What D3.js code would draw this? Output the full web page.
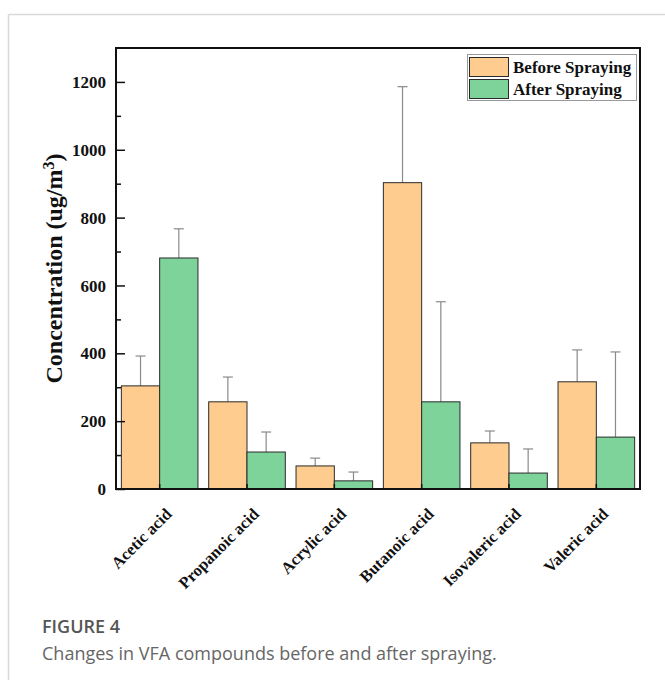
<!DOCTYPE html>
<html>
<head>
<meta charset="utf-8">
<script src="https://cdn.jsdelivr.net/npm/d3@7"></script>
<style>
  html, body { margin: 0; padding: 0; background: #fff; }
  svg { display: block; }
</style>
</head>
<body>
<svg id="chart" width="665" height="680"></svg>
<script>
const categories = ["Acetic acid", "Propanoic acid", "Acrylic acid", "Butanoic acid", "Isovaleric acid", "Valeric acid"];
const seriesNames = ["Before Spraying", "After Spraying"];
const beforeValues = [304, 257, 68, 903, 136, 316];
const beforeErrors = [88, 73, 23, 283, 35, 94];
const afterValues = [681, 109, 24, 257, 47, 153];
const afterErrors = [86, 59, 26, 295, 71, 251];
const yTicks = [0, 200, 400, 600, 800, 1000, 1200];
const yMinorTicks = [100, 300, 500, 700, 900, 1100];
const colors = ["#FECC8E", "#7ED39B"];

const svg = d3.select("#chart");
const serif = "'Liberation Serif', 'Times New Roman', serif";

// card border
svg.append("line").attr("x1", 8.5).attr("x2", 8.5).attr("y1", 14.5).attr("y2", 680).attr("stroke", "#d9d9d9").attr("stroke-width", 1.5);
svg.append("line").attr("x1", 8.5).attr("x2", 665).attr("y1", 14.5).attr("y2", 14.5).attr("stroke", "#d9d9d9").attr("stroke-width", 1.5);

const pLeft = 116, pRight = 640, pTop = 48, pBottom = 489;

const x = d3.scaleBand().domain(categories).range([pLeft, pRight]).padding(0);
const y = d3.scaleLinear().domain([0, 1300]).range([pBottom, pTop]);
const sub = d3.scaleBand().domain(seriesNames).range([0, x.bandwidth()]).paddingInner(0).paddingOuter(0.14);

const data = [];
categories.forEach((c, i) => {
  data.push({cat: c, s: 0, v: beforeValues[i], e: beforeErrors[i]});
  data.push({cat: c, s: 1, v: afterValues[i], e: afterErrors[i]});
});

const g = svg.append("g");

// error bars (drawn behind bars)
const capW = 10;
data.forEach(d => {
  const cx = x(d.cat) + sub(seriesNames[d.s]) + sub.bandwidth() / 2;
  g.append("line").attr("x1", cx).attr("x2", cx).attr("y1", y(d.v)).attr("y2", y(d.v + d.e))
    .attr("stroke", "#8a8a8a").attr("stroke-width", 1.2);
  g.append("line").attr("x1", cx - capW / 2).attr("x2", cx + capW / 2).attr("y1", y(d.v + d.e)).attr("y2", y(d.v + d.e))
    .attr("stroke", "#8a8a8a").attr("stroke-width", 1.2);
});

// bars
g.selectAll("rect.bar").data(data).enter().append("rect")
  .attr("class", "bar")
  .attr("x", d => x(d.cat) + sub(seriesNames[d.s]))
  .attr("width", sub.bandwidth())
  .attr("y", d => y(d.v))
  .attr("height", d => y(0) - y(d.v))
  .attr("fill", d => colors[d.s])
  .attr("stroke", "#2a2a2a")
  .attr("stroke-width", 1);

// y axis major ticks (inward)
const yAxis = d3.axisRight(y).tickValues(yTicks).tickSize(9).tickFormat("");
const ya = svg.append("g").attr("transform", `translate(${pLeft},0)`).call(yAxis);
ya.select(".domain").remove();
ya.selectAll("line").attr("stroke", "#111").attr("stroke-width", 1.5);
const yMinor = d3.axisRight(y).tickValues(yMinorTicks).tickSize(5).tickFormat("");
const ym = svg.append("g").attr("transform", `translate(${pLeft},0)`).call(yMinor);
ym.select(".domain").remove();
ym.selectAll("line").attr("stroke", "#111").attr("stroke-width", 1.5);

// y tick labels
svg.append("g").selectAll("text").data(yTicks).enter().append("text")
  .attr("x", pLeft - 10).attr("y", d => y(d)).attr("dy", "0.36em")
  .attr("text-anchor", "end")
  .attr("font-family", serif).attr("font-weight", "bold").attr("font-size", 17)
  .attr("fill", "#111")
  .text(d => d);

// x axis ticks inward
const xAxis = d3.axisTop(x).tickSize(5).tickFormat("");
const xa = svg.append("g").attr("transform", `translate(0,${pBottom})`).call(xAxis);
xa.select(".domain").remove();
xa.selectAll("line").attr("stroke", "#111").attr("stroke-width", 1.5);

// frame
svg.append("rect").attr("x", pLeft).attr("y", pTop).attr("width", pRight - pLeft).attr("height", pBottom - pTop)
  .attr("fill", "none").attr("stroke", "#111").attr("stroke-width", 2);

// x labels rotated
svg.append("g").selectAll("text").data(categories).enter().append("text")
  .attr("transform", d => `translate(${x(d) + x.bandwidth() / 2 + 13},${pBottom + 26}) rotate(-45)`)
  .attr("text-anchor", "end")
  .attr("font-family", serif).attr("font-weight", "bold").attr("font-size", 16.5)
  .attr("fill", "#111")
  .text(d => d);

// y axis title
const yt = svg.append("text")
  .attr("transform", `translate(62,${(pTop + pBottom) / 2}) rotate(-90)`)
  .attr("text-anchor", "middle")
  .attr("font-family", serif).attr("font-weight", "bold").attr("font-size", 24)
  .attr("fill", "#111");
yt.append("tspan").text("Concentration (ug/m");
yt.append("tspan").attr("baseline-shift", "super").attr("font-size", 16).text("3");
yt.append("tspan").text(")");

// legend
const lg = svg.append("g");
lg.append("rect").attr("x", 467.5).attr("y", 54.5).attr("width", 169).attr("height", 46)
  .attr("fill", "#fff").attr("stroke", "#999").attr("stroke-width", 1);
seriesNames.forEach((s, i) => {
  lg.append("rect").attr("x", 469.5).attr("y", 57.5 + i * 22).attr("width", 39).attr("height", 19)
    .attr("fill", colors[i]).attr("stroke", "#2a2a2a").attr("stroke-width", 1);
  lg.append("text").attr("x", 513).attr("y", 73 + i * 22)
    .attr("font-family", serif).attr("font-weight", "bold").attr("font-size", 17)
    .attr("fill", "#111").text(s);
});

// caption
svg.append("text").attr("x", 42).attr("y", 633)
  .attr("font-family", "'Open Sans', 'Noto Sans', sans-serif").attr("font-size", 18).attr("font-weight", 600)
  .attr("fill", "#555").text("FIGURE 4");
svg.append("text").attr("x", 42).attr("y", 660)
  .attr("font-family", "'Open Sans', 'Noto Sans', sans-serif").attr("font-size", 18)
  .attr("fill", "#666").text("Changes in VFA compounds before and after spraying.");
</script>
</body>
</html>
